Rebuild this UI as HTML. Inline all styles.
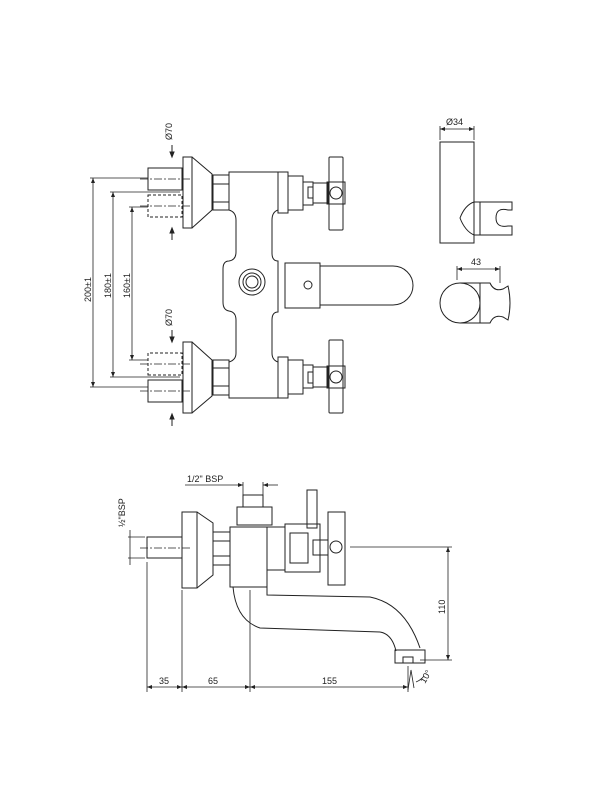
<!DOCTYPE html>
<html><head><meta charset="utf-8"><style>
html,body{margin:0;padding:0;background:#fff;}
svg{display:block;}
text{font-family:"Liberation Sans",sans-serif;font-size:9px;fill:#222;}
</style></head><body>
<svg width="600" height="800" viewBox="0 0 600 800" xmlns="http://www.w3.org/2000/svg">
<defs>
<g id="valve" fill="none" stroke="#222" stroke-width="1">
  <rect x="148" y="-25" width="34" height="22"/>
  <rect x="148" y="2" width="34" height="22" stroke-dasharray="3,2"/>
  <line x1="140" y1="-14" x2="190" y2="-14" stroke-dasharray="8,2,2,2" stroke-width="0.7"/>
  <line x1="140" y1="13" x2="190" y2="13" stroke-dasharray="8,2,2,2" stroke-width="0.7"/>
  <rect x="183" y="-36" width="9" height="71"/>
  <path d="M192,-36 L212,-19 L212,17 L192,35"/>
  <rect x="213" y="-18" width="16" height="35"/>
  <line x1="213" y1="-9" x2="229" y2="-9"/><line x1="213" y1="9" x2="229" y2="9"/>
  <rect x="278" y="-21" width="10" height="41"/>
  <rect x="288" y="-17" width="15" height="34"/>
  <rect x="303" y="-11" width="10" height="23"/>
  <rect x="308" y="-6" width="5" height="11"/>
  <rect x="313" y="-10" width="15" height="20"/>
  <rect x="329" y="-36" width="14" height="73" rx="1"/>
  <rect x="327" y="-11" width="18" height="22"/>
  <circle cx="336" cy="0" r="6"/>
</g>
</defs>

<g fill="none" stroke="#222" stroke-width="1">
<!-- Top view -->
<use href="#valve" transform="translate(0,193)"/>
<use href="#valve" transform="translate(0,377) scale(1,-1)"/>
<!-- Ø70 markers -->
<line x1="172" y1="145" x2="172" y2="157"/><path d="M170,152 L172,157 L174,152Z" fill="#222"/>
<line x1="172" y1="228" x2="172" y2="240"/><path d="M170,233 L172,228 L174,233Z" fill="#222"/>
<line x1="172" y1="330" x2="172" y2="342"/><path d="M170,337 L172,342 L174,337Z" fill="#222"/>
<line x1="172" y1="414" x2="172" y2="426"/><path d="M170,419 L172,414 L174,419Z" fill="#222"/>
<!-- central body -->
<path d="M229,172 L278,172 L278,210 Q272,212 272,220 L272,253 Q272,261 278,261 L278,312 Q272,312 272,320 L272,353 Q272,360 278,362 L278,398 L229,398 L229,362 Q236,360 236,353 L236,320 Q236,312 229,311 Q223,310 223,302 L223,269 Q223,261 229,261 Q236,260 236,252 L236,220 Q236,212 229,210 Z"/>
<circle cx="252" cy="282" r="13"/><circle cx="252" cy="282" r="9"/><circle cx="252" cy="282" r="6"/>
<rect x="285" y="263" width="35" height="45"/>
<circle cx="308" cy="285" r="4"/>
<path d="M320,266 L393,266 A20,19.5 0 0 1 393,305 L320,305"/>
<!-- dims -->
<g stroke-width="0.8">
<line x1="93" y1="178" x2="93" y2="387"/>
<line x1="90" y1="178" x2="148" y2="178"/><line x1="90" y1="387" x2="148" y2="387"/>
<line x1="113" y1="192" x2="113" y2="377"/>
<line x1="110" y1="192" x2="180" y2="192"/><line x1="110" y1="377" x2="180" y2="377"/>
<line x1="132" y1="207" x2="132" y2="360"/>
<line x1="129" y1="207" x2="148" y2="207"/><line x1="129" y1="360" x2="148" y2="360"/>
</g>
<!-- Right: shower holder -->
<rect x="440" y="142" width="34" height="101"/>
<line x1="440" y1="126" x2="440" y2="140" stroke-width="0.8"/><line x1="474" y1="126" x2="474" y2="140" stroke-width="0.8"/>
<line x1="440" y1="129" x2="474" y2="129" stroke-width="0.8"/>
<path d="M474,202 L512,202 L512,210 L508,210 Q496,207 496,218 Q496,228 508,226 L512,226 L512,235 L474,235 M474,202 Q465,205 460,218 Q465,231 474,235"/>
<line x1="480" y1="202" x2="480" y2="235"/>
<line x1="457" y1="269" x2="500" y2="269" stroke-width="0.8"/>
<line x1="457" y1="266" x2="457" y2="280" stroke-width="0.8"/><line x1="500" y1="266" x2="500" y2="283" stroke-width="0.8"/>
<circle cx="460" cy="303" r="20"/>
<path d="M460,283 L490,283 Q494,292 503,289 L508,286 Q512,303 508,320 L503,317 Q494,314 490,323 L460,323"/>
<line x1="480" y1="283" x2="480" y2="323"/>

<!-- Bottom side view -->
<rect x="147" y="537" width="35" height="21"/>
<line x1="140" y1="548" x2="190" y2="548" stroke-dasharray="8,2,2,2" stroke-width="0.7"/>
<rect x="182" y="512" width="15" height="76"/>
<path d="M197,512 L213,523 L213,575 L197,588"/>
<rect x="213" y="532" width="17" height="33"/>
<line x1="213" y1="541" x2="230" y2="541"/><line x1="213" y1="556" x2="230" y2="556"/>
<rect x="230" y="527" width="37" height="60"/>
<rect x="237" y="507" width="35" height="18"/>
<rect x="243" y="495" width="20" height="12"/>
<rect x="267" y="527" width="18" height="43"/>
<rect x="285" y="524" width="35" height="48"/>
<rect x="290" y="533" width="18" height="30"/>
<rect x="307" y="490" width="10" height="38"/>
<rect x="313" y="540" width="15" height="15"/>
<rect x="328" y="512" width="17" height="73"/>
<circle cx="336" cy="547" r="6"/>
<path d="M233,587 Q236,620 260,628 L380,632 Q392,634 396,651"/>
<path d="M267,587 L267,595 L370,597 Q405,604 420,648"/>
<rect x="395" y="650" width="30" height="13"/>
<rect x="403" y="657" width="10" height="6"/>
<!-- 1/2 BSP -->
<g stroke-width="0.8">
<line x1="185" y1="485" x2="243" y2="485"/><line x1="243" y1="482" x2="243" y2="495"/>
<line x1="263" y1="482" x2="263" y2="495"/><line x1="263" y1="485" x2="278" y2="485"/>
<line x1="128" y1="537" x2="145" y2="537"/><line x1="128" y1="558" x2="145" y2="558"/>
<line x1="130" y1="530" x2="130" y2="565"/>
<!-- 110 -->
<line x1="350" y1="547" x2="452" y2="547"/><line x1="420" y1="660" x2="452" y2="660"/>
<line x1="448" y1="547" x2="448" y2="660"/>
<!-- bottom -->
<line x1="147" y1="562" x2="147" y2="692"/>
<line x1="182" y1="590" x2="182" y2="692"/>
<line x1="250" y1="590" x2="250" y2="692"/>
<line x1="408" y1="666" x2="408" y2="692"/>
<line x1="147" y1="687" x2="408" y2="687"/>
<path d="M408,690 L411,670 L414,688"/>
<path d="M416,682 Q421,680 424,676"/>
</g>
</g>

<g fill="#222">
<path d="M93,178 l-2,5 h4z M93,387 l-2,-5 h4z M113,192 l-2,5 h4z M113,377 l-2,-5 h4z M132,207 l-2,5 h4z M132,360 l-2,-5 h4z"/>
<path d="M440,129 l5,-2 v4z M474,129 l-5,-2 v4z M457,269 l5,-2 v4z M500,269 l-5,-2 v4z"/>
<path d="M243,485 l-5,-2 v4z M263,485 l5,-2 v4z M448,547 l-2,5 h4z M448,660 l-2,-5 h4z"/>
<path d="M147,687 l5,-2 v4z M182,687 l-5,-2 v4z M182,687 l5,-2 v4z M250,687 l-5,-2 v4z M250,687 l5,-2 v4z M408,687 l-5,-2 v4z"/>
</g>

<text transform="translate(172,140) rotate(-90)">Ø70</text>
<text transform="translate(172,326) rotate(-90)">Ø70</text>
<text transform="translate(91,302) rotate(-90)">200±1</text>
<text transform="translate(111,298) rotate(-90)">180±1</text>
<text transform="translate(130,298) rotate(-90)">160±1</text>
<text x="446" y="125">Ø34</text>
<text x="471" y="265">43</text>
<text x="187" y="482">1/2" BSP</text>
<text transform="translate(125,527) rotate(-90)">½"BSP</text>
<text transform="translate(445,614) rotate(-90)">110</text>
<text x="159" y="684">35</text>
<text x="208" y="684">65</text>
<text x="322" y="684">155</text>
<text transform="translate(425,684) rotate(-60)">10°</text>
</svg>
</body></html>
